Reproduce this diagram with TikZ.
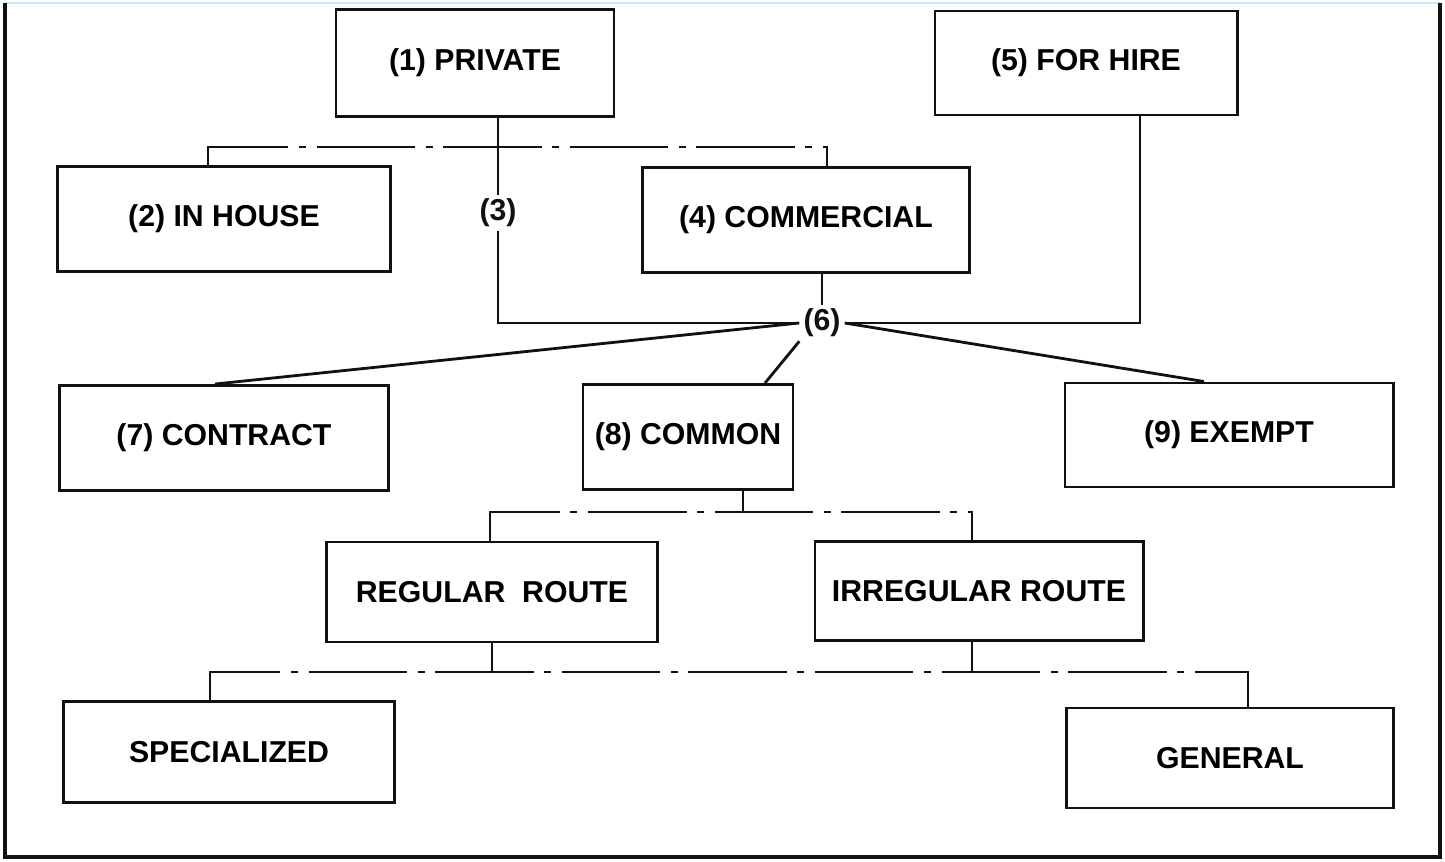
\documentclass[tikz,border=0pt]{standalone}
\usepackage{fontspec}
\setmainfont{Liberation Sans}
\usepackage{xcolor}
\definecolor{scanInk}{HTML}{111111}
\definecolor{scanEdge}{HTML}{BFEFF2}
\usepackage{tikz}
\usetikzlibrary{calc}

\begin{document}
\begin{tikzpicture}[
  x=0.01cm, y=-0.01cm,
  font=\fontsize{8.6}{10}\selectfont\bfseries,
  box/.style={draw=scanInk,thick,align=center,inner sep=0pt,
              minimum width=3.28cm,minimum height=1.05cm},
  link/.style={draw=scanInk,thick},
  bus/.style={draw=scanInk,thick,dash pattern=on 28pt off 3pt on 2pt off 3pt},
  tag/.style={inner sep=1pt,text=scanInk}
]
\useasboundingbox (0,0) rectangle (1445,862);
\draw[scanEdge,thin] (5,3) -- (1440,3);
\draw[scanInk,line width=1.4pt] (5,3) -- (5,857) -- (1440,857) -- (1440,3);

\node[box, minimum width=2.78cm, minimum height=1.07cm] (priv) at (475,63) {(1) PRIVATE};
\node[box, minimum width=3.02cm, minimum height=1.04cm] (hire) at (1086,63) {(5) FOR HIRE};
\node[box, minimum width=3.32cm] (inhouse) at (224,219) {(2) IN HOUSE};
\node[box, minimum width=3.27cm] (comm) at (806,220) {(4) COMMERCIAL};
\node[tag] (three) at (498,213) {(3)};
\node[tag] (six) at (822,323) {(6)};
\node[box] (contract) at (224,438) {(7) CONTRACT};
\node[box, minimum width=2.10cm] (common) at (688,437) {(8) COMMON};
\node[box, minimum height=1.04cm] (exempt) at (1229,435) {(9) EXEMPT};
\node[box, minimum width=3.31cm, minimum height=1.00cm] (regular) at (492,592) {REGULAR\ \ ROUTE};
\node[box, minimum height=0.99cm] (irregular) at (979,591) {IRREGULAR ROUTE};
\node[box, minimum width=3.30cm, minimum height=1.01cm] (special) at (229,752) {SPECIALIZED};
\node[box, minimum width=3.27cm, minimum height=1.00cm] (general) at (1230,758) {GENERAL};

\coordinate (b1l) at (208,147);
\coordinate (b1r) at (827,147);
\coordinate (hx) at (1140,323);
\coordinate (b2) at (743,512);
\coordinate (b2l) at (490,512);
\coordinate (b2r) at (972,512);
\coordinate (b3l) at (210,672);
\coordinate (b3r) at (1248,672);

\draw[link] (priv.south -| three) -- (three.north);
\draw[link] (three.south) -- (three.south |- six) -- (six.west);
\draw[bus] (inhouse.north -| b1l) -- (b1l) -- (b1r) -- (comm.north -| b1r);
\draw[link] (comm.south -| six) -- (six.north);
\draw[link] (hire.south -| hx) -- (hx) -- (six.east);

\draw[link] (six.west) -- ($(contract.north)+(-9,0)$);
\draw[link] (six.south west) -- ($(common.north)+(77,0)$);
\draw[link] (six.east) -- ($(exempt.north)+(-25,0)$);

\draw[link] (common.south -| b2) -- (b2);
\draw[bus] (regular.north -| b2l) -- (b2l) -- (b2r) -- (irregular.north -| b2r);

\draw[link] (regular.south) -- (regular.south |- b3l);
\draw[link] (irregular.south -| b2r) -- (b2r |- b3l);
\draw[bus] (special.north -| b3l) -- (b3l) -- (b3r) -- (general.north -| b3r);
\end{tikzpicture}
\end{document}
